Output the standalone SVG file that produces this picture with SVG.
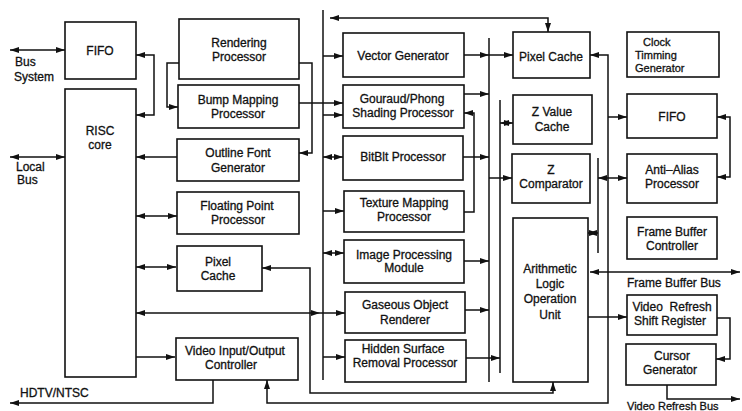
<svg xmlns="http://www.w3.org/2000/svg" width="742" height="411" viewBox="0 0 742 411">
<defs>
<marker id="ah" viewBox="0 0 9 6" refX="9" refY="3" markerWidth="9" markerHeight="6" markerUnits="userSpaceOnUse" orient="auto-start-reverse">
<path d="M0,0 L9,3 L0,6 z" fill="#111"/>
</marker>
</defs>
<style>
.b{fill:#fff;stroke:#111;stroke-width:1.6}
.t{font-family:"Liberation Sans",Arial,sans-serif;font-size:12px;fill:#111;text-anchor:middle;stroke:#111;stroke-width:0.3}
.s{font-size:11px}
.l{text-anchor:start}
.c{fill:none;stroke:#111;stroke-width:1.5}
.e{marker-end:url(#ah)}
.d{marker-start:url(#ah);marker-end:url(#ah)}
</style>
<rect width="742" height="411" fill="#fff"/>
<g id="connectors">
<line class="c" x1="323" y1="10" x2="323" y2="380"/>
<line class="c" x1="489" y1="38" x2="489" y2="382"/>
<line class="c" x1="500" y1="100" x2="500" y2="373"/>
<line class="c" x1="598" y1="158" x2="598" y2="253"/>
<line class="c d" x1="10" y1="50" x2="65" y2="50"/>
<line class="c d" x1="10" y1="157" x2="65" y2="157"/>
<path class="c d" d="M136,55 H154 V115 H136"/>
<path class="c e" d="M179,63 H167 V107 H178"/>
<path class="c e" d="M299,63 H312 V153 H299"/>
<line class="c e" x1="299" y1="103" x2="343" y2="103"/>
<line class="c e" x1="323" y1="56" x2="343" y2="56"/>
<line class="c e" x1="323" y1="115" x2="343" y2="115"/>
<line class="c e" x1="177" y1="157" x2="136" y2="157"/>
<line class="c d" x1="136" y1="216" x2="177" y2="216"/>
<line class="c d" x1="136" y1="267" x2="176" y2="267"/>
<line class="c d" x1="136" y1="313" x2="320" y2="313"/>
<line class="c e" x1="320" y1="313" x2="345" y2="313"/>
<line class="c e" x1="136" y1="357" x2="175" y2="357"/>
<line class="c d" x1="323" y1="157" x2="343" y2="157"/>
<line class="c e" x1="323" y1="211" x2="344" y2="211"/>
<line class="c d" x1="323" y1="253" x2="344" y2="253"/>
<line class="c e" x1="323" y1="357" x2="345" y2="357"/>
<path class="c d" d="M330,18 H548 V32"/>
<line class="c e" x1="464" y1="55" x2="489" y2="55"/>
<line class="c e" x1="489" y1="55" x2="513" y2="55"/>
<line class="c e" x1="464" y1="94" x2="489" y2="94"/>
<path class="c e" d="M464,212 H474 V113 H464"/>
<line class="c e" x1="463" y1="157" x2="489" y2="157"/>
<line class="c e" x1="464" y1="261" x2="489" y2="261"/>
<line class="c e" x1="465" y1="310" x2="489" y2="310"/>
<line class="c e" x1="466" y1="358" x2="500" y2="358"/>
<line class="c e" x1="489" y1="178" x2="512" y2="178"/>
<line class="c d" x1="500" y1="123" x2="513" y2="123"/>
<path class="c d" d="M262,268 H310 V393 H553 V382"/>
<path class="c d" d="M590,55 H608 V403 H267 V380"/>
<line class="c e" x1="608" y1="117" x2="627" y2="117"/>
<line class="c d" x1="598" y1="178" x2="627" y2="178"/>
<path class="c e" d="M213,380 V403 H10"/>
<line class="c d" x1="588" y1="233" x2="598" y2="233"/>
<line class="c d" x1="590" y1="272" x2="740" y2="272"/>
<line class="c e" x1="588" y1="317" x2="627" y2="317"/>
<path class="c e" d="M717,318 H730 V359 H716"/>
<path class="c e" d="M667,385 V399 H740"/>
<path class="c d" d="M717,117 H730 V177 H717"/>
</g>
<g id="fifo-left"><rect class="b" x="65" y="22" width="71" height="57"/><text class="t" x="100" y="55">FIFO</text></g>
<g id="risc-core"><rect class="b" x="65" y="89" width="71" height="288"/><text class="t" x="100" y="135">RISC</text><text class="t" x="100" y="149">core</text></g>
<g id="rendering"><rect class="b" x="179" y="19" width="120" height="60"/><text class="t" x="239" y="47">Rendering</text><text class="t" x="239" y="61">Processor</text></g>
<g id="bump"><rect class="b" x="178" y="85" width="121" height="43"/><text class="t" x="238" y="104">Bump Mapping</text><text class="t" x="238" y="118">Processor</text></g>
<g id="outline"><rect class="b" x="177" y="139" width="122" height="42"/><text class="t" x="238" y="157">Outline Font</text><text class="t" x="238" y="172">Generator</text></g>
<g id="floating"><rect class="b" x="177" y="192" width="122" height="42"/><text class="t" x="237" y="210">Floating Point</text><text class="t" x="238" y="224">Processor</text></g>
<g id="pixel-cache-left"><rect class="b" x="177" y="246" width="85" height="45"/><text class="t" x="218" y="266">Pixel</text><text class="t" x="218" y="280">Cache</text></g>
<g id="video-io"><rect class="b" x="176" y="338" width="122" height="42"/><text class="t" x="235" y="355">Video Input/Output</text><text class="t" x="231" y="369">Controller</text></g>
<g id="vector"><rect class="b" x="343" y="33" width="121" height="44"/><text class="t" x="403" y="60">Vector Generator</text></g>
<g id="gouraud"><rect class="b" x="343" y="85" width="121" height="43"/><text class="t" x="402" y="103">Gouraud/Phong</text><text class="t" x="403" y="117">Shading Processor</text></g>
<g id="bitblt"><rect class="b" x="343" y="136" width="120" height="44"/><text class="t" x="403" y="161">BitBlt Processor</text></g>
<g id="texture"><rect class="b" x="344" y="191" width="120" height="41"/><text class="t" x="404" y="207">Texture Mapping</text><text class="t" x="404" y="221">Processor</text></g>
<g id="image"><rect class="b" x="344" y="240" width="120" height="43"/><text class="t" x="404" y="259">Image Processing</text><text class="t" x="404" y="272">Module</text></g>
<g id="gaseous"><rect class="b" x="345" y="292" width="120" height="41"/><text class="t" x="405" y="309">Gaseous Object</text><text class="t" x="405" y="324">Renderer</text></g>
<g id="hidden"><rect class="b" x="345" y="340" width="121" height="42"/><text class="t" x="403" y="353">Hidden Surface</text><text class="t" x="405" y="367">Removal Processor</text></g>
<g id="pixel-cache-right"><rect class="b" x="513" y="32" width="77" height="46"/><text class="t" x="551" y="61">Pixel Cache</text></g>
<g id="z-value"><rect class="b" x="513" y="95" width="79" height="49"/><text class="t" x="552" y="116">Z Value</text><text class="t" x="552" y="131">Cache</text></g>
<g id="z-comparator"><rect class="b" x="512" y="154" width="78" height="49"/><text class="t" x="551" y="174">Z</text><text class="t" x="551" y="188">Comparator</text></g>
<g id="alu"><rect class="b" x="513" y="218" width="75" height="164"/><text class="t" x="550" y="273">Arithmetic</text><text class="t" x="550" y="288">Logic</text><text class="t" x="550" y="303">Operation</text><text class="t" x="550" y="319">Unit</text></g>
<g id="clock"><rect class="b" x="627" y="32" width="92" height="45"/><text class="t l s" x="643" y="46">Clock</text><text class="t l s" x="635" y="59">Timming</text><text class="t l s" x="635" y="72">Generator</text></g>
<g id="fifo-right"><rect class="b" x="627" y="94" width="90" height="44"/><text class="t" x="672" y="121">FIFO</text></g>
<g id="anti-alias"><rect class="b" x="627" y="154" width="90" height="49"/><text class="t" x="672" y="174">Anti–Alias</text><text class="t" x="672" y="188">Processor</text></g>
<g id="fb-controller"><rect class="b" x="627" y="217" width="90" height="42"/><text class="t" x="672" y="236">Frame Buffer</text><text class="t" x="672" y="250">Controller</text></g>
<g id="video-refresh"><rect class="b" x="627" y="295" width="90" height="40"/><text class="t" x="672" y="311" xml:space="preserve">Video  Refresh</text><text class="t" x="670" y="325">Shift Register</text></g>
<g id="cursor"><rect class="b" x="626" y="344" width="90" height="41"/><text class="t" x="672" y="360">Cursor</text><text class="t" x="670" y="374">Generator</text></g>
<g id="labels">
<text class="t l" x="15" y="66">Bus</text><text class="t l" x="14" y="81">System</text>
<text class="t l" x="16" y="171">Local</text><text class="t l" x="17" y="184">Bus</text>
<text class="t l" x="20" y="397">HDTV/NTSC</text>
<text class="t l" x="627" y="287">Frame Buffer Bus</text>
<text class="t l s" x="627" y="410">Video Refresh Bus</text>
</g>
</svg>
